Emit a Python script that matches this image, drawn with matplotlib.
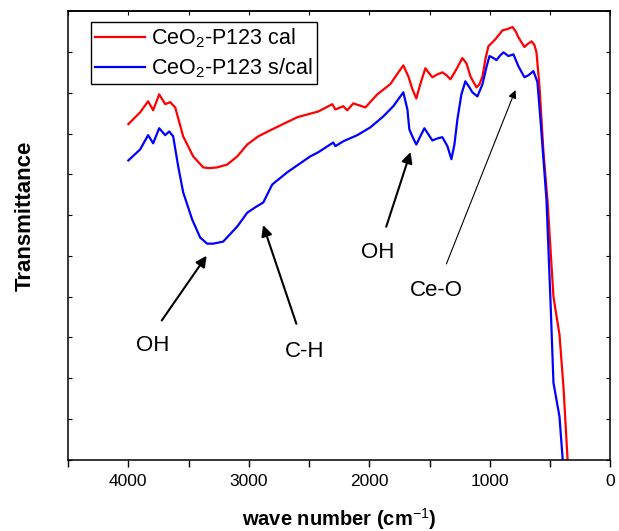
import numpy as np
import matplotlib
matplotlib.use("Agg")
import matplotlib.pyplot as plt

plt.rcParams["font.family"] = ["Liberation Sans", "DejaVu Sans"]
plt.rcParams["mathtext.fontset"] = "custom"
plt.rcParams["mathtext.rm"] = "Liberation Sans"
plt.rcParams["mathtext.bf"] = "Liberation Sans:bold"

# FTIR spectra (wave number in cm-1, transmittance in arbitrary units)
wn_cal = [4000, 3902, 3836, 3794, 3744, 3694, 3653, 3611, 3545, 3462, 3379, 3329,
          3262, 3179, 3096, 3013, 2922, 2822, 2598, 2424, 2307, 2282, 2216, 2183,
          2133, 2033, 1934, 1826, 1759, 1718, 1676, 1643, 1610, 1577, 1535, 1510,
          1477, 1435, 1394, 1360, 1327, 1286, 1228, 1194, 1161, 1111, 1086, 1061,
          1037, 1012, 954, 895, 854, 812, 787, 763, 713, 688, 654, 630, 613, 588,
          555, 522, 472, 422, 389, 356, 339]
t_cal = [82.3, 85.2, 87.9, 85.7, 89.6, 87.2, 87.7, 86.4, 79.3, 74.4, 71.7, 71.5,
         71.7, 72.4, 74.4, 77.3, 79.3, 80.8, 84.0, 85.4, 87.2, 85.9, 86.7, 85.7,
         87.4, 86.4, 89.6, 92.1, 95.0, 96.7, 94.0, 90.9, 88.6, 92.1, 96.0, 95.0,
         93.8, 94.5, 95.0, 94.3, 93.3, 95.3, 98.5, 97.2, 94.0, 91.3, 92.1, 94.0,
         98.2, 101.4, 103.1, 105.3, 105.6, 106.1, 105.1, 103.6, 101.2, 101.9, 102.6,
         101.7, 99.9, 91.6, 75.4, 63.8, 40.0, 30.7, 17.9, 0.7, -4.9]

wn_scal = [4000, 3902, 3836, 3794, 3744, 3694, 3661, 3628, 3586, 3545, 3470, 3404,
           3346, 3296, 3213, 3096, 3013, 2947, 2880, 2806, 2681, 2490, 2424, 2299,
           2282, 2216, 2100, 1992, 1884, 1801, 1718, 1684, 1668, 1643, 1610, 1577,
           1543, 1510, 1477, 1435, 1394, 1352, 1319, 1294, 1269, 1236, 1203, 1169,
           1145, 1103, 1061, 1028, 1003, 970, 945, 912, 887, 846, 804, 763, 713,
           679, 638, 605, 580, 555, 530, 497, 472, 422, 397, 389]
t_scal = [73.4, 76.1, 79.6, 77.6, 81.3, 79.6, 80.5, 79.3, 71.9, 65.6, 58.9, 54.5,
          53.0, 53.0, 53.5, 57.2, 60.6, 61.9, 63.1, 67.5, 70.5, 74.4, 75.4, 77.8,
          76.9, 78.1, 79.6, 81.5, 84.2, 86.7, 90.1, 85.9, 81.0, 79.3, 77.3, 79.3,
          81.3, 79.8, 78.3, 78.8, 79.1, 76.9, 73.7, 77.3, 83.5, 89.6, 92.8, 91.3,
          90.1, 89.1, 92.1, 96.3, 99.0, 98.5, 98.0, 99.2, 99.9, 99.0, 99.4, 96.5,
          93.8, 94.3, 95.3, 92.6, 83.5, 73.7, 63.8, 39.3, 18.9, 10.6, 0.7, -3.7]

labels = ["CeO$_2$-P123 cal", "CeO$_2$-P123 s/cal"]

fig = plt.figure(figsize=(6.19, 5.31), dpi=100)
ax = fig.add_axes([0.110, 0.134, 0.876, 0.845])

ax.plot(wn_cal, t_cal, color="#ff0000", lw=1.6, label=labels[0])
ax.plot(wn_scal, t_scal, color="#0000ff", lw=1.6, label=labels[1])

ax.set_xlim(4500, 0)
ax.set_ylim(0, 110)
ax.set_xticks(np.arange(0, 4001, 1000))
ax.set_xticks(np.arange(0, 4501, 500), minor=True)
ax.set_yticks(np.arange(0, 111, 10))
ax.set_yticklabels([])
ax.tick_params(axis="x", which="both", direction="out", length=5, width=1, labelsize=12.5, pad=5)
ax.tick_params(axis="y", which="both", direction="in", length=3, width=0.8, left=True, right=True)
for s in ax.spines.values():
    s.set_linewidth(1.1)

top = ax.secondary_xaxis("top")
top.set_xticks(np.arange(0, 4501, 500))
top.tick_params(direction="in", length=3, width=0.8, labeltop=False)
top.spines["top"].set_linewidth(1.1)

ax.set_xlabel(r"wave number (cm$^{-1}$)", fontsize=14.5, fontweight="bold")
ax.set_ylabel("Transmittance", fontsize=16, fontweight="bold")
ax.xaxis.set_label_coords(0.5, -0.103)
ax.yaxis.set_label_coords(-0.06, 0.543)

leg = ax.legend(loc="upper left", bbox_to_anchor=(0.042, 0.9755), borderaxespad=0,
                fontsize=15.5, fancybox=False, edgecolor="black", framealpha=1,
                handlelength=2.3, handletextpad=0.3, labelspacing=0.3, borderpad=0.2)
leg.get_frame().set_linewidth(1.0)

# band assignments
arrow = dict(arrowstyle="-|>", color="black", lw=1.5, mutation_scale=16)
thin = dict(arrowstyle="-|>", color="black", lw=0.8, mutation_scale=12)
ax.annotate("", xy=(3337, 50.6), xytext=(3736, 33.6), arrowprops=arrow)
ax.annotate("", xy=(2889, 58.2), xytext=(2598, 32.7), arrowprops=arrow)
ax.annotate("", xy=(1651, 76.1), xytext=(1867, 56.5), arrowprops=arrow)
ax.annotate("", xy=(779, 91.3), xytext=(1369, 47.4), arrowprops=thin)
ax.text(3794, 28.0, "OH", fontsize=16, ha="center", va="center")
ax.text(2540, 26.5, "C-H", fontsize=16, ha="center", va="center")
ax.text(1934, 50.8, "OH", fontsize=16, ha="center", va="center")
ax.text(1444, 41.5, "Ce-O", fontsize=16, ha="center", va="center")

fig.savefig("out.png", dpi=100)
